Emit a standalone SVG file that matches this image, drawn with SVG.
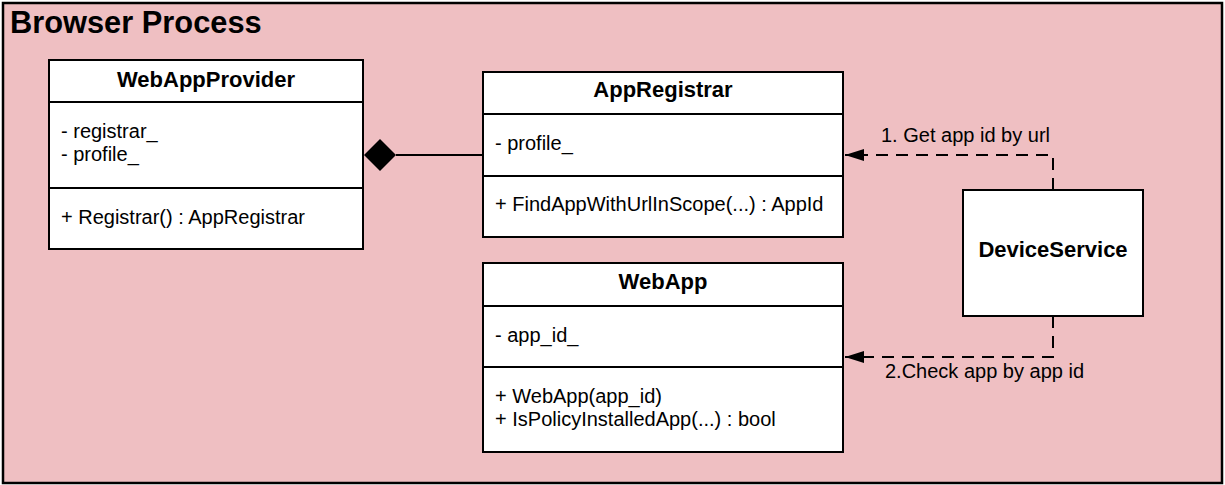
<svg xmlns="http://www.w3.org/2000/svg" width="1225" height="485" viewBox="0 0 1225 485">
<defs>
<marker id="arrow" markerWidth="20" markerHeight="12" refX="19" refY="6" orient="auto" markerUnits="userSpaceOnUse">
<path d="M0,0 L19,6 L0,12 Z" fill="#000"/>
</marker>
</defs>
<style>
.box{fill:#fff;stroke:#000;stroke-width:2}
.div{stroke:#000;stroke-width:2;fill:none}
.t{font-family:"Liberation Sans",Arial,sans-serif;font-size:20px;fill:#000}
.b{font-family:"Liberation Sans",Arial,sans-serif;font-size:22px;font-weight:bold;fill:#000;text-anchor:middle}
.dash{fill:none;stroke:#000;stroke-width:2;stroke-dasharray:12 8}
</style>
<g id="browser-process">
<rect x="3" y="3" width="1219" height="480" fill="#efbfc2" stroke="#000" stroke-width="2.5"/>
<text x="10" y="33" font-family="'Liberation Sans',Arial,sans-serif" font-size="30.8" font-weight="bold" fill="#000">Browser Process</text>
</g>
<g id="connectors">
<line x1="396" y1="155" x2="483" y2="155" stroke="#000" stroke-width="2"/>
<polygon points="364,155 380,139 396,155 380,171" fill="#000"/>
<path class="dash" d="M1053,190 L1053,155 L845,155" marker-end="url(#arrow)"/>
<path class="dash" d="M1053,316 L1053,357 L845,357" marker-end="url(#arrow)"/>
<text class="t" x="881" y="142">1. Get app id by url</text>
<text class="t" x="885" y="378">2.Check app by app id</text>
</g>
<g id="WebAppProvider">
<rect class="box" x="49" y="60" width="314" height="189"/>
<line class="div" x1="49" y1="102" x2="363" y2="102"/>
<line class="div" x1="49" y1="188" x2="363" y2="188"/>
<text class="b" x="206" y="87">WebAppProvider</text>
<text class="t" x="61" y="138">- registrar_</text>
<text class="t" x="61" y="161">- profile_</text>
<text class="t" x="61" y="224">+ Registrar() : AppRegistrar</text>
</g>
<g id="AppRegistrar">
<rect class="box" x="483" y="72" width="360" height="165"/>
<line class="div" x1="483" y1="114" x2="843" y2="114"/>
<line class="div" x1="483" y1="176" x2="843" y2="176"/>
<text class="b" x="663" y="97">AppRegistrar</text>
<text class="t" x="495" y="150">- profile_</text>
<text class="t" x="495" y="211">+ FindAppWithUrlInScope(...) : AppId</text>
</g>
<g id="WebApp">
<rect class="box" x="483" y="263" width="360" height="189"/>
<line class="div" x1="483" y1="306" x2="843" y2="306"/>
<line class="div" x1="483" y1="367" x2="843" y2="367"/>
<text class="b" x="663" y="289">WebApp</text>
<text class="t" x="495" y="342">- app_id_</text>
<text class="t" x="495" y="403">+ WebApp(app_id)</text>
<text class="t" x="495" y="426">+ IsPolicyInstalledApp(...) : bool</text>
</g>
<g id="DeviceService">
<rect class="box" x="963" y="190" width="180" height="126"/>
<text class="b" x="1053" y="257">DeviceService</text>
</g>
</svg>
